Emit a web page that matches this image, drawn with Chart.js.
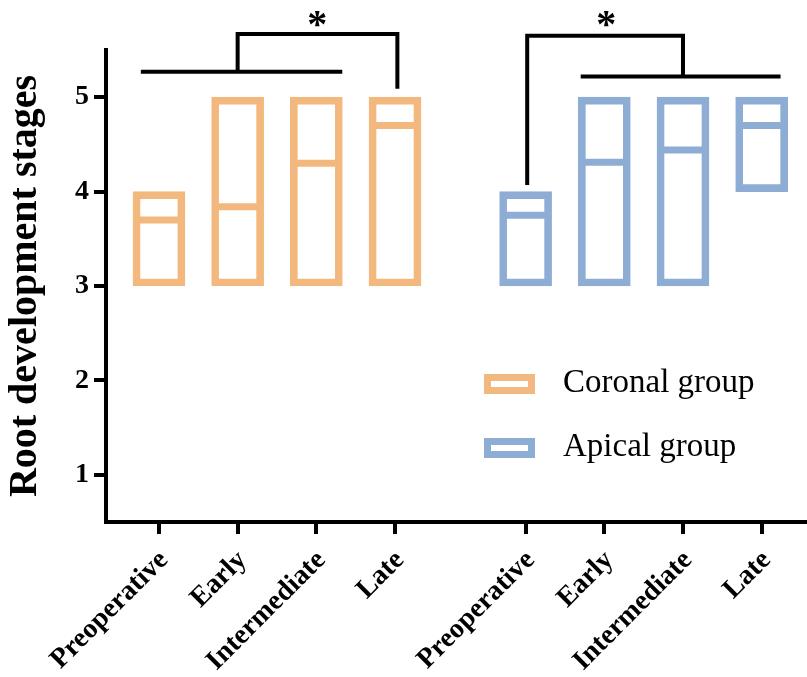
<!DOCTYPE html>
<html>
<head>
<meta charset="utf-8">
<script src="https://cdn.jsdelivr.net/npm/chart.js@4.4.1/dist/chart.umd.min.js"></script>
<style>
  html, body { margin: 0; padding: 0; background: #fff; }
</style>
</head>
<body>
<canvas id="chart" width="807" height="677"></canvas>
<script>
// Data
const stages = ['Preoperative', 'Early', 'Intermediate', 'Late'];
const coronalMin = [3, 3, 3, 3];
const coronalMax = [4, 5, 5, 5];
const coronalMedian = [3.70, 3.84, 4.30, 4.70];
const apicalMin = [3, 3, 3, 4];
const apicalMax = [4, 5, 5, 5];
const apicalMedian = [3.75, 4.31, 4.44, 4.70];
const yTicks = [1, 2, 3, 4, 5];

const orange = '#F3B87D';
const blue = '#8EADD5';
const serif = "'Liberation Serif', 'Times New Roman', serif";

// second group sits a bit further right than a plain next slot
const groupShift = 4.66;
const coronalX = stages.map((s, i) => i + 1);
const apicalX = stages.map((s, i) => i + 1 + groupShift);
const xTickValues = [...coronalX, ...apicalX];
const xLabels = [...stages, ...stages];

function bars(xs, mins, maxs) {
  return xs.map((x, i) => ({ x: x, y: [mins[i], maxs[i]] }));
}
function medians(xs, meds) {
  return xs.map((x, i) => ({ x: x, y: meds[i] }));
}

// significance brackets and legend, drawn on top
const extras = {
  id: 'extras',
  afterDraw(chart) {
    const ctx = chart.ctx;
    const xs = chart.scales.x, ys = chart.scales.y;
    const px = v => xs.getPixelForValue(v);
    const py = v => ys.getPixelForValue(v);
    ctx.save();
    ctx.strokeStyle = '#000';
    ctx.lineWidth = 4;
    ctx.lineCap = 'butt';
    ctx.lineJoin = 'miter';

    // coronal: Preop..Intermediate vs Late
    ctx.beginPath();
    ctx.moveTo(px(coronalX[0] - 0.23), py(5.27));
    ctx.lineTo(px(coronalX[2] + 0.33), py(5.27));
    ctx.stroke();
    ctx.beginPath();
    ctx.moveTo(px(coronalX[1]), py(5.27));
    ctx.lineTo(px(coronalX[1]), py(5.67));
    ctx.lineTo(px(coronalX[3] + 0.03), py(5.67));
    ctx.lineTo(px(coronalX[3] + 0.03), py(5.09));
    ctx.stroke();

    // apical: Preop vs Early..Late
    ctx.beginPath();
    ctx.moveTo(px(apicalX[1] - 0.30), py(5.22));
    ctx.lineTo(px(apicalX[3] + 0.24), py(5.22));
    ctx.stroke();
    ctx.beginPath();
    ctx.moveTo(px(apicalX[2]), py(5.22));
    ctx.lineTo(px(apicalX[2]), py(5.65));
    ctx.lineTo(px(apicalX[0] + 0.02), py(5.65));
    ctx.lineTo(px(apicalX[0] + 0.02), py(4.07));
    ctx.stroke();

    ctx.fillStyle = '#000';
    ctx.font = 'bold 40px ' + serif;
    ctx.textAlign = 'center';
    ctx.textBaseline = 'alphabetic';
    ctx.fillText('*', px(coronalX[2]) + 1, 37);
    ctx.fillText('*', px(apicalX[1]) + 2, 37);

    // legend
    const items = [['Coronal group', orange, 374], ['Apical group', blue, 438]];
    ctx.font = '33px ' + serif;
    ctx.textAlign = 'left';
    ctx.textBaseline = 'middle';
    items.forEach(([label, color, top]) => {
      ctx.fillStyle = color;
      ctx.fillRect(484, top, 51, 20);
      ctx.fillStyle = '#fff';
      ctx.fillRect(491, top + 7, 37, 6);
      ctx.fillStyle = '#000';
      ctx.fillText(label, 563, top + 9);
    });
    ctx.restore();
  }
};

const barCommon = {
  type: 'bar',
  backgroundColor: 'rgba(255,255,255,0)',
  borderWidth: 7,
  borderSkipped: false,
  barThickness: 52,
  grouped: false,
  order: 2
};
const medCommon = {
  type: 'line',
  showLine: false,
  pointStyle: 'line',
  pointRadius: 25,
  pointHoverRadius: 25,
  pointBorderWidth: 7,
  order: 1
};

new Chart(document.getElementById('chart'), {
  data: {
    datasets: [
      { ...barCommon, label: 'Coronal group', data: bars(coronalX, coronalMin, coronalMax), borderColor: orange },
      { ...barCommon, label: 'Apical group', data: bars(apicalX, apicalMin, apicalMax), borderColor: blue },
      { ...medCommon, label: 'Coronal median', data: medians(coronalX, coronalMedian), borderColor: orange, pointBorderColor: orange },
      { ...medCommon, label: 'Apical median', data: medians(apicalX, apicalMedian), borderColor: blue, pointBorderColor: blue }
    ]
  },
  options: {
    responsive: false,
    animation: false,
    devicePixelRatio: 1,
    layout: { autoPadding: false, padding: { top: 50, right: 0, bottom: 0, left: 0 } },
    plugins: { legend: { display: false }, tooltip: { enabled: false } },
    scales: {
      x: {
        type: 'linear',
        offset: false,
        min: 0.327,
        max: 9.236,
        afterBuildTicks: scale => { scale.ticks = xTickValues.map(v => ({ value: v })); },
        afterFit: scale => { scale.height = 155; scale.paddingLeft = 0; scale.paddingRight = 0; },
        ticks: {
          autoSkip: false,
          minRotation: 45,
          maxRotation: 45,
          padding: 10,
          labelOffset: 5,
          color: '#000',
          font: { family: serif, size: 28, weight: 'bold' },
          callback: (v, i) => xLabels[i]
        },
        grid: { offset: false, drawOnChartArea: false, tickLength: 12, lineWidth: 4, color: '#000' },
        border: { display: true, width: 4, color: '#000' }
      },
      y: {
        type: 'linear',
        min: 0.5,
        max: 5.5,
        afterBuildTicks: scale => { scale.ticks = yTicks.map(v => ({ value: v })); },
        afterFit: scale => { scale.width = 106; },
        ticks: {
          padding: 5,
          color: '#000',
          font: { family: serif, size: 28, weight: 'bold' }
        },
        grid: { drawOnChartArea: false, tickLength: 12, lineWidth: 4, color: '#000' },
        border: { display: true, width: 4, color: '#000' },
        title: {
          display: true,
          text: 'Root development stages',
          color: '#000',
          padding: { top: 2, bottom: 0 },
          font: { family: serif, size: 40, weight: 'bold' }
        }
      }
    }
  },
  plugins: [extras]
});
</script>
</body>
</html>
